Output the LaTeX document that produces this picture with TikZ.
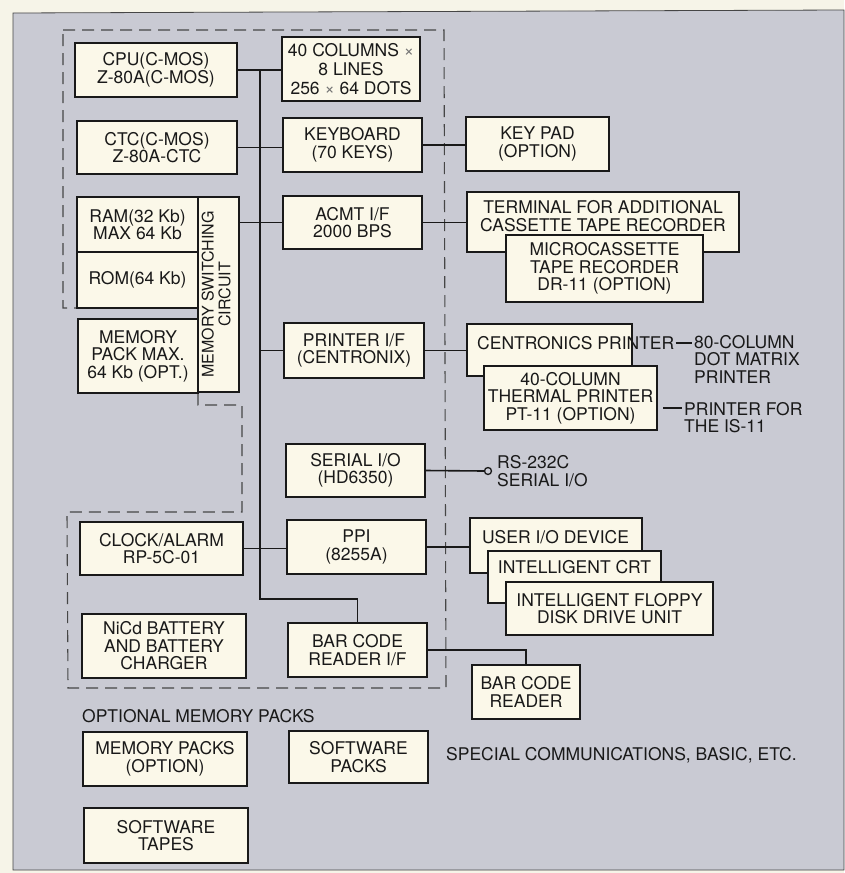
\documentclass[tikz,border=0pt]{standalone}
\usepackage{fontspec}
\usepackage{graphicx}
\setmainfont{TeX Gyre Heros}
\usetikzlibrary{calc}
\definecolor{panelc}{RGB}{201,202,211}
\definecolor{boxc}{RGB}{251,248,233}
\definecolor{paperc}{RGB}{246,244,232}
\definecolor{linec}{RGB}{25,25,25}
\definecolor{dashc}{RGB}{70,70,70}
\newcommand{\fs}{\fontsize{17.5}{17.5}\selectfont}
\newcommand{\tms}{\textcolor{linec!60}{×}}
\newcommand{\blk}[6]{\node[box, minimum width={(#4-#2)*1pt}, minimum height={(#5-#3)*1pt}] (#1) at ({(#2+#4)/2},{(#3+#5)/2}) {#6};}
\begin{document}
\begin{tikzpicture}[x=1pt,y=-1pt,
  box/.style={draw=linec, fill=boxc, line width=1.5pt, inner sep=0pt, align=center, font=\fs, text=linec},
  lbl/.style={inner sep=0pt, font=\fs, text=linec},
  wire/.style={draw=linec, line width=1.6pt},
  dashb/.style={draw=dashc, line width=1.1pt, dash pattern=on 12pt off 7pt}]
\fill[paperc] (0,0) rectangle (844,873);
\useasboundingbox (0,0) rectangle (844,873);
\filldraw[fill=panelc, draw=dashc, line width=0.8pt] (13,13) -- (844,10) -- (844,870) -- (13,870) -- cycle;
% dashed boundary
\draw[dashb] (63,30) -- (444,30) -- (446,688) -- (68,688) -- (67,512) -- (242,512) -- (242,405) -- (198,405) -- (198,308) -- (63,308) -- cycle;
% left column
\blk{cpu}{75}{43}{237}{97}{CPU(C-MOS)\\Z-80A(C-MOS)}
\blk{ctc}{77}{121}{237}{174}{CTC(C-MOS)\\Z-80A-CTC}
\blk{ram}{77}{197}{198}{252}{RAM(32 Kb)\\MAX 64 Kb}
\blk{rom}{77}{252}{198}{308}{ROM(64 Kb)}
\blk{mpk}{78}{319}{198}{393}{MEMORY\\PACK MAX.\\64 Kb (OPT.)}
\blk{msw}{198}{197}{239}{392}{\rotatebox{90}{\fontsize{16}{16.5}\selectfont\begin{tabular}{@{}c@{}}MEMORY SWITCHING\\CIRCUIT\end{tabular}}}
\blk{clk}{80}{522}{243}{575}{CLOCK/ALARM\\RP-5C-01}
\blk{nicd}{82}{614}{246}{678}{NiCd BATTERY\\AND BATTERY\\CHARGER}
\blk{mpo}{83}{732}{247}{786}{MEMORY PACKS\\(OPTION)}
\blk{swt}{84}{808}{248}{863}{SOFTWARE\\TAPES}
% middle column
\node[box, minimum width=138pt, minimum height=64pt, font=\fontsize{17.5}{19}\selectfont] (col) at (351,69) {40 COLUMNS \tms\\8 LINES\\256 \tms\ 64 DOTS};
\blk{kbd}{283}{118}{422}{172}{KEYBOARD\\(70 KEYS)}
\blk{acmt}{283}{196}{422}{249}{ACMT I/F\\2000 BPS}
\blk{prn}{284}{323}{424}{378}{PRINTER I/F\\(CENTRONIX)}
\blk{ser}{286}{444}{425}{497}{SERIAL I/O\\(HD6350)}
\blk{ppi}{287}{520}{426}{574}{PPI\\(8255A)}
\blk{bcif}{288}{623}{427}{677}{BAR CODE\\READER I/F}
\blk{swp}{289}{731}{428}{783}{SOFTWARE\\PACKS}
% right column
\blk{keypad}{466}{117}{609}{171}{KEY PAD\\(OPTION)}
\blk{term}{467}{192}{739}{252}{}
\node[lbl, align=center] (termt) at (603,216) {TERMINAL FOR ADDITIONAL\\CASSETTE TAPE RECORDER};
\blk{micro}{506}{235}{703}{302}{MICROCASSETTE\\TAPE RECORDER\\DR-11 (OPTION)}
\blk{cent}{467}{324}{632}{376}{}
\node[lbl, anchor=west] (centt) at (477,343) {CENTRONICS PRINTER};
\blk{therm}{484}{366}{657}{430}{40-COLUMN\\THERMAL PRINTER\\PT-11 (OPTION)}
\node[lbl, anchor=west, align=left] (col80) at (694,359) {80-COLUMN\\DOT MATRIX\\PRINTER};
\node[lbl, anchor=west, align=left] (pf) at (684,417.5) {PRINTER FOR\\THE IS-11};
\coordinate (pfa) at (663,408);
\node[lbl, anchor=west, align=left] (rst) at (497,471) {RS-232C\\SERIAL I/O};
\blk{user}{470}{518}{642}{573}{}
\node[lbl] (usert) at (555.5,537) {USER I/O DEVICE};
\blk{crt}{488}{551}{661}{603}{}
\node[lbl] (crtt) at (574.5,567) {INTELLIGENT CRT};
\blk{flop}{506}{582}{713}{635}{INTELLIGENT FLOPPY\\DISK DRIVE UNIT}
\blk{bcr}{472}{665}{580}{719}{BAR CODE\\READER}
\node[lbl, anchor=west] (omp) at (82,716) {OPTIONAL MEMORY PACKS};
\node[lbl, anchor=west] (spc) at (446,755) {SPECIAL COMMUNICATIONS, BASIC, ETC.};
% wires
\coordinate (bt) at (260,70);
\coordinate (bb) at (260,599);
\draw[wire] (cpu.east) -- (cpu.east -| col.west);
\draw[wire] (bt) -- (bb) -| (bcif.north);
\draw[wire] (ctc.east) -- (ctc.east -| kbd.west);
\draw[wire] (msw.east |- acmt.west) -- (acmt.west);
\draw[wire] (bt |- prn.west) -- (prn.west);
\draw[wire] (clk.east) -- (clk.east -| ppi.west);
\draw[wire] (kbd.east) -- (kbd.east -| keypad.west);
\draw[wire] (acmt.east) -- (acmt.east -| term.west);
\draw[wire] (prn.east) -- (prn.east -| cent.west);
\draw[wire] (ppi.east) -- (ppi.east -| user.west);
\draw[wire] (bcif.east) -| (bcr.north);
\draw[wire] ([xshift=1pt]centt.east) -- ([xshift=-2pt]centt.east -| col80.west);
\draw[wire] (pfa) -- ([xshift=-2pt]pfa -| pf.west);
\node[circle, draw=linec, fill=panelc, line width=1.3pt, inner sep=0pt, minimum size=7pt] (rs) at (488,471) {};
\draw[wire] (ser.east) -- (rs.west);
\end{tikzpicture}
\end{document}
